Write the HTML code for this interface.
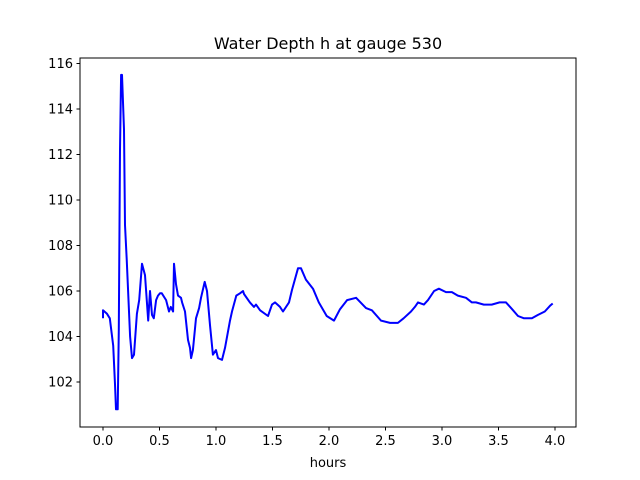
<!DOCTYPE html>
<html><head><meta charset="utf-8"><style>
body{margin:0;background:#fff;}
svg{display:block;font-family:"DejaVu Sans","Liberation Sans",sans-serif;}
</style></head><body>
<svg id="chart" width="640" height="480" xmlns="http://www.w3.org/2000/svg">
<rect width="640" height="480" fill="#fff"/>
<text x="328" y="49" text-anchor="middle" font-size="16">Water Depth h at gauge 530</text>
<g id="ticks"></g>
<path id="series" fill="none" stroke="#0000ff" stroke-width="2" stroke-linejoin="round"/>
<rect x="80" y="58" width="496" height="369" fill="none" stroke="#000" stroke-width="1"/>
<text x="328" y="467" text-anchor="middle" font-size="13">hours</text>
</svg>
<script>
const hours=[0,0,0.035,0.06,0.09,0.106,0.115,0.13,0.14,0.15,0.16,0.168,0.186,0.195,0.21,0.24,0.257,0.274,0.30,0.32,0.345,0.372,0.40,0.416,0.434,0.45,0.47,0.487,0.504,0.52,0.558,0.584,0.60,0.62,0.628,0.646,0.664,0.69,0.70,0.726,0.752,0.77,0.78,0.796,0.823,0.85,0.867,0.90,0.92,0.947,0.973,1.0,1.018,1.053,1.08,1.124,1.142,1.18,1.212,1.239,1.248,1.30,1.336,1.354,1.39,1.46,1.496,1.522,1.566,1.593,1.646,1.673,1.726,1.752,1.796,1.858,1.91,1.98,2.044,2.097,2.16,2.24,2.327,2.38,2.46,2.54,2.61,2.66,2.726,2.76,2.788,2.84,2.876,2.93,2.973,3.035,3.088,3.14,3.212,3.265,3.3,3.37,3.44,3.51,3.566,3.62,3.673,3.726,3.796,3.85,3.91,3.956,3.98];
const depth=[104.8,105.15,105.0,104.8,103.6,101.9,100.8,100.8,104.3,112.2,115.5,115.5,113.1,108.9,107.4,104.0,103.05,103.2,105.0,105.6,107.2,106.7,104.7,106.0,104.95,104.8,105.6,105.8,105.9,105.9,105.6,105.1,105.3,105.1,107.2,106.3,105.8,105.7,105.5,105.1,103.85,103.5,103.05,103.4,104.8,105.25,105.7,106.4,106.0,104.5,103.2,103.4,103.05,102.97,103.5,104.7,105.1,105.8,105.9,106.0,105.87,105.5,105.3,105.4,105.15,104.9,105.4,105.5,105.3,105.1,105.5,106.05,107.0,107.0,106.5,106.1,105.5,104.9,104.7,105.2,105.6,105.7,105.25,105.15,104.7,104.6,104.6,104.8,105.1,105.3,105.5,105.4,105.6,106.0,106.1,105.95,105.95,105.8,105.7,105.5,105.5,105.4,105.4,105.5,105.5,105.2,104.9,104.8,104.8,104.95,105.1,105.35,105.45];
const xTicks=[0.0,0.5,1.0,1.5,2.0,2.5,3.0,3.5,4.0];
const yTicks=[102,104,106,108,110,112,114,116];
const sx=t=>103+t*113;
const sy=v=>382-(v-102)*22.75;
const NS="http://www.w3.org/2000/svg";
const g=document.getElementById('ticks');
function mk(tag,attrs){const e=document.createElementNS(NS,tag);for(const k in attrs)e.setAttribute(k,attrs[k]);g.appendChild(e);return e;}
xTicks.forEach(t=>{
 const l=mk('line',{x1:sx(t),x2:sx(t),y1:427,y2:430.5,stroke:'#000'});
 
 
 const tx=mk('text',{x:sx(t),y:445,'text-anchor':'middle','font-size':'13'});
 tx.textContent=t.toFixed(1);
 
 
});
yTicks.forEach(v=>{
 const l=mk('line',{x1:76.5,x2:80,y1:sy(v),y2:sy(v),stroke:'#000'});
 
 
 const tx=mk('text',{x:73,y:sy(v)+4.5,'text-anchor':'end','font-size':'13'});
 tx.textContent=v;
 
 
});
document.getElementById('series').setAttribute('d',hours.map((t,i)=>(i?'L':'M')+sx(t).toFixed(1)+' '+sy(depth[i]).toFixed(1)).join(' '));
</script>
</body></html>
